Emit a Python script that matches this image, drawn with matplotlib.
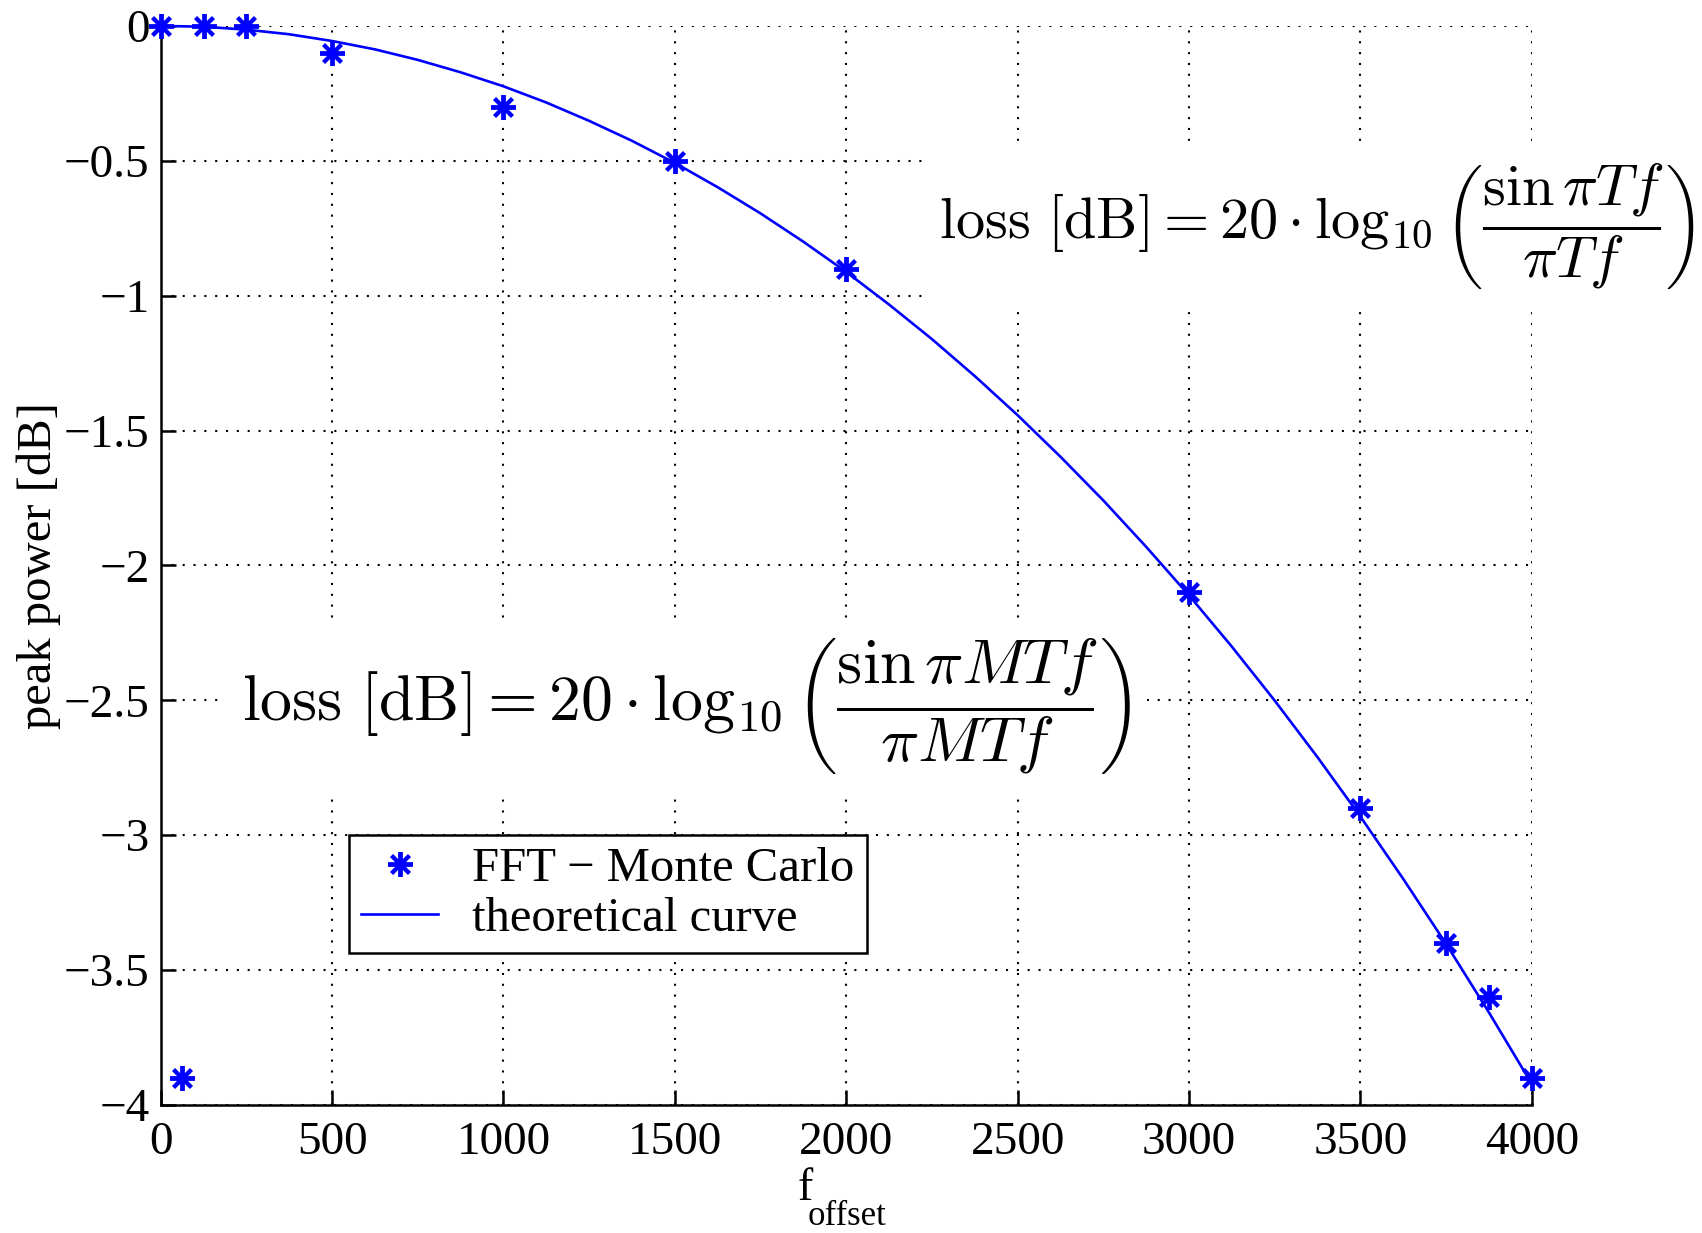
import matplotlib
matplotlib.use("Agg")
import matplotlib.pyplot as plt

plt.rcParams['font.family'] = ['Liberation Serif', 'DejaVu Serif']
plt.rcParams['mathtext.fontset'] = 'cm'

# Monte Carlo points (FFT)
mc_f = [0, 62.5, 125, 250, 500, 1000, 1500, 2000, 3000, 3500, 3750, 3875, 4000]
mc_db = [0.0, -3.9, 0.0, 0.0, -0.1, -0.3, -0.5, -0.9, -2.1, -2.9, -3.4, -3.6, -3.9]

# theoretical curve
th_f = [0, 125, 250, 375, 500, 625, 750, 875, 1000, 1125, 1250, 1375, 1500,
        1625, 1750, 1875, 2000, 2125, 2250, 2375, 2500, 2625, 2750, 2875,
        3000, 3125, 3250, 3375, 3500, 3625, 3750, 3875, 4000]
th_db = [0.0, -0.003, -0.014, -0.031, -0.056, -0.087, -0.126, -0.172, -0.224,
         -0.284, -0.352, -0.426, -0.508, -0.598, -0.695, -0.800, -0.912,
         -1.033, -1.161, -1.298, -1.443, -1.597, -1.759, -1.931, -2.111,
         -2.301, -2.501, -2.711, -2.931, -3.162, -3.403, -3.657, -3.922]

xticks = [0, 500, 1000, 1500, 2000, 2500, 3000, 3500, 4000]
yticks = [0, -0.5, -1, -1.5, -2, -2.5, -3, -3.5, -4]

fig = plt.figure(figsize=(17.02, 12.33), dpi=100)
ax = fig.add_axes([0.0944, 0.1038, 0.8056, 0.8752])

line, = ax.plot(th_f, th_db, color=(0, 0, 1), lw=1.9, label='theoretical curve',
                clip_on=False, zorder=3)
pts, = ax.plot(mc_f, mc_db, linestyle='none', marker=(8, 2, 0), markersize=18,
               markeredgewidth=2.8, color=(0, 0, 1),
               label='FFT \u2212 Monte Carlo', clip_on=False, zorder=4)

ax.set_xlim(0, 4000)
ax.set_ylim(-4, 0)
ax.set_xticks(xticks)
ax.set_yticks(yticks)
ax.set_yticklabels(['0' if v == 0 else '\u2212' + ('%g' % -v) for v in yticks])

ax.grid(True, color='black', linestyle=(0, (1, 4.2)), linewidth=1.5)
ax.set_axisbelow(True)

for s in ['top', 'right']:
    ax.spines[s].set_visible(False)
for s in ['left', 'bottom']:
    ax.spines[s].set_linewidth(1.8)

ax.tick_params(direction='in', length=11, width=1.8, labelsize=34,
               top=False, right=False)
ax.tick_params(axis='x', pad=12)
ax.tick_params(axis='y', pad=8)

ax.set_ylabel('peak power [dB]', fontsize=35, labelpad=2)

# x label: f with a low subscript
fig.text(0.4689, 0.0265, 'f', fontsize=33, ha='left', va='baseline')
fig.text(0.4747, 0.0065, 'offset', fontsize=25, ha='left', va='baseline')

ax.text(3372, -0.745,
        r'$\mathrm{loss}\ [\mathrm{dB}] = 20\cdot\log_{10}\left(\dfrac{\sin\pi Tf}{\pi Tf}\right)$',
        fontsize=42, ha='center', va='center', zorder=2,
        bbox=dict(fc='white', ec='none', pad=10))
ax.text(1533, -2.52,
        r'$\mathrm{loss}\ [\mathrm{dB}] = 20\cdot\log_{10}\left(\dfrac{\sin\pi MTf}{\pi MTf}\right)$',
        fontsize=46, ha='center', va='center', zorder=2,
        bbox=dict(fc='white', ec='none', pad=12))

leg = ax.legend([pts, line], ['FFT \u2212 Monte Carlo', 'theoretical curve'],
                loc='lower left', bbox_to_anchor=(0.137, 0.141), fontsize=35,
                fancybox=False, framealpha=1, edgecolor='black',
                borderpad=0.25, labelspacing=0.12, handlelength=1.6,
                handletextpad=0.7, borderaxespad=0)
leg.get_frame().set_linewidth(1.8)

fig.savefig('out.png', dpi=100)
